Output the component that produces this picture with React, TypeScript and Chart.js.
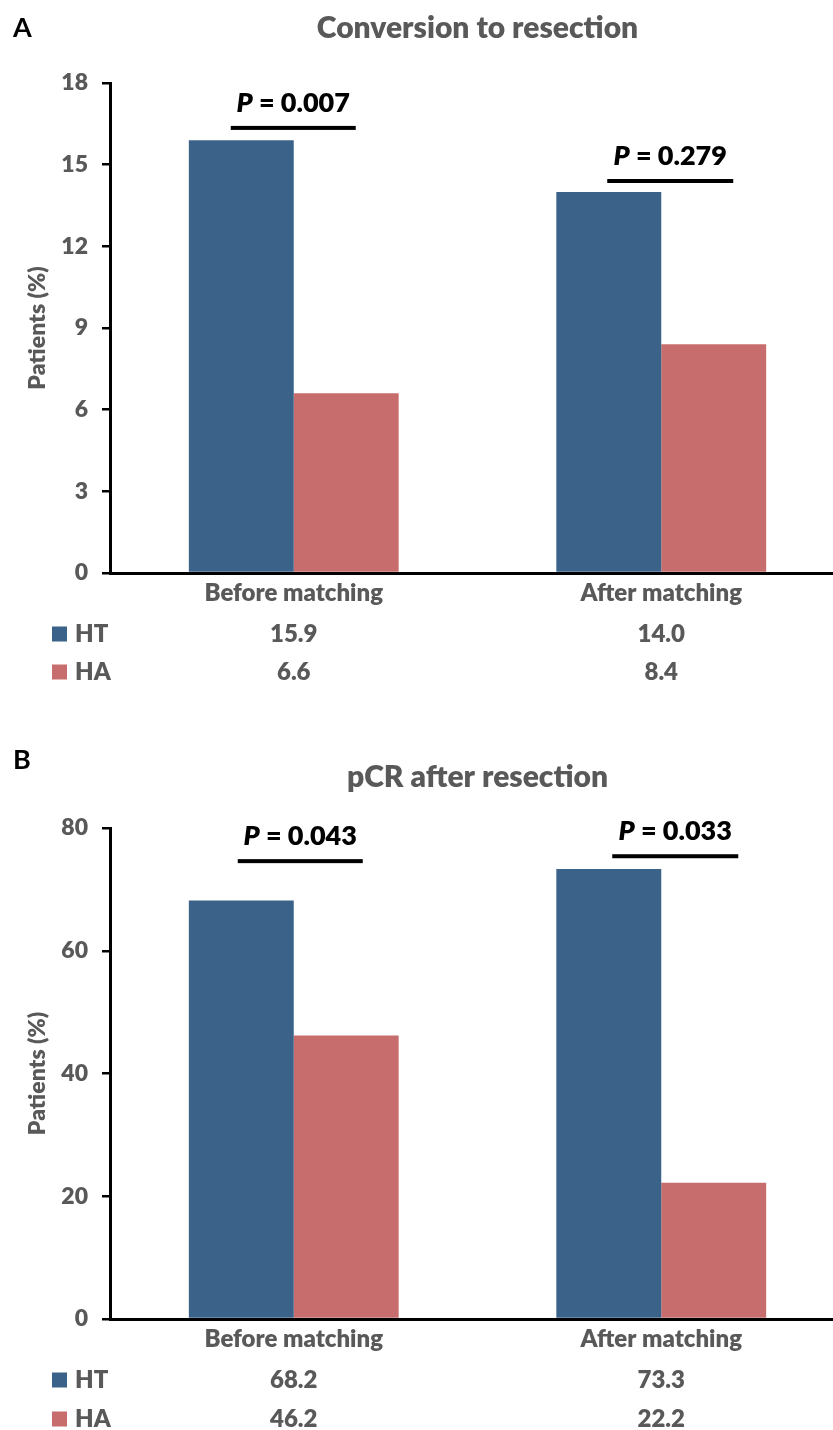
import React, { useEffect, useRef } from 'react';
import { Chart, registerables } from 'chart.js';

Chart.register(...registerables);

const FONT = 'Lato, Carlito, "Open Sans", sans-serif';
const GRAY = '#595959';
const BLUE = '#3B6389';
const RED = '#C86D6D';
const W = '800';

// ---------- data ----------
const categories = ['Before matching', 'After matching'];
const seriesNames = ['HT', 'HA'];

const conversionHT = [15.9, 14.0];
const conversionHA = [6.6, 8.4];
const conversionTicks = [0, 3, 6, 9, 12, 15, 18];
const conversionP = ['0.007', '0.279'];
const conversionPLevel = [16.35, 14.4];

const pcrHT = [68.2, 73.3];
const pcrHA = [46.2, 22.2];
const pcrTicks = [0, 20, 40, 60, 80];
const pcrP = ['0.043', '0.033'];
const pcrPLevel = [74.6, 75.4];

type PanelProps = {
  letter: string;
  title: string;
  ht: number[];
  ha: number[];
  ticks: number[];
  pvals: string[];
  plevels: number[];
  pSpan: number[][];
  height: number;
  padTop: number;
  xAxisH: number;
  letterY: number;
  titleY: number;
  rowOffsets: number[];
};

function Panel(props: PanelProps) {
  const ref = useRef<HTMLCanvasElement | null>(null);
  useEffect(() => {
    if (!ref.current) return;
    const p = props;
    const decor = {
      id: 'decor',
      afterDraw(chart: any) {
        const { ctx, chartArea: ca, scales } = chart;
        const xs = scales.x;
        const ys = scales.y;
        ctx.save();
        // panel letter
        ctx.fillStyle = '#000';
        ctx.font = `bold 27px ${FONT}`;
        ctx.textAlign = 'left';
        ctx.textBaseline = 'middle';
        ctx.fillText(p.letter, 13, p.letterY);
        // title
        ctx.fillStyle = GRAY;
        ctx.font = `${W} 30px ${FONT}`;
        ctx.textAlign = 'center';
        ctx.fillText(p.title, (ca.left + ca.right) / 2, p.titleY);
        // y axis title
        ctx.save();
        ctx.translate(38, (ca.top + ca.bottom) / 2);
        ctx.rotate(-Math.PI / 2);
        ctx.font = `${W} 23px ${FONT}`;
        ctx.fillText('Patients (%)', 0, 0);
        ctx.restore();
        // p-value annotations
        p.pvals.forEach((pv, i) => {
          const cx = xs.getPixelForValue(i);
          const x0 = cx + p.pSpan[i][0];
          const x1 = cx + p.pSpan[i][1];
          const ly = ys.getPixelForValue(p.plevels[i]);
          ctx.fillStyle = '#000';
          ctx.fillRect(x0, ly - 2, x1 - x0, 4);
          const f1 = `italic ${W} 27px ${FONT}`;
          const f2 = `${W} 27px ${FONT}`;
          ctx.font = f1;
          const w1 = ctx.measureText('P').width;
          const rest = ` = ${pv}`;
          ctx.font = f2;
          const w2 = ctx.measureText(rest).width;
          const sx = (x0 + x1) / 2 - (w1 + w2) / 2;
          ctx.textAlign = 'left';
          ctx.font = f1;
          ctx.fillText('P', sx, ly - 25);
          ctx.font = f2;
          ctx.fillText(rest, sx + w1, ly - 25);
        });
        // data table with legend
        const rows = [
          { name: seriesNames[0], color: BLUE, vals: p.ht },
          { name: seriesNames[1], color: RED, vals: p.ha },
        ];
        rows.forEach((r, ri) => {
          const ry = ca.bottom + p.rowOffsets[ri];
          ctx.fillStyle = r.color;
          ctx.fillRect(52, ry - 7.5, 15, 15);
          ctx.fillStyle = GRAY;
          ctx.font = `${W} 24px ${FONT}`;
          ctx.textAlign = 'left';
          ctx.fillText(r.name, 75, ry);
          ctx.textAlign = 'center';
          r.vals.forEach((v, i) => ctx.fillText(v.toFixed(1), xs.getPixelForValue(i), ry));
        });
        ctx.restore();
      },
    };

    const chart = new Chart(ref.current, {
      type: 'bar',
      data: {
        labels: categories,
        datasets: [
          { label: seriesNames[0], data: p.ht, backgroundColor: BLUE, barPercentage: 1, categoryPercentage: 0.571 },
          { label: seriesNames[1], data: p.ha, backgroundColor: RED, barPercentage: 1, categoryPercentage: 0.571 },
        ],
      },
      options: {
        responsive: false,
        animation: false,
        layout: { padding: { top: p.padTop, left: 0, right: 0, bottom: 0 } },
        plugins: {
          legend: { display: false },
          title: { display: false },
          tooltip: { enabled: false },
        },
        scales: {
          x: {
            grid: { display: false, drawTicks: false },
            border: { display: true, color: '#000', width: 3 },
            ticks: {
              color: GRAY,
              font: { family: FONT, size: 24, weight: W },
              padding: 6,
              maxRotation: 0,
            },
            afterFit: (s: any) => {
              s.height = p.xAxisH;
            },
          },
          y: {
            min: p.ticks[0],
            max: p.ticks[p.ticks.length - 1],
            grid: {
              display: true,
              drawOnChartArea: false,
              drawTicks: true,
              tickLength: 8,
              color: '#000',
              lineWidth: 2.5,
            },
            border: { display: true, color: '#000', width: 3 },
            ticks: {
              stepSize: p.ticks[1] - p.ticks[0],
              color: GRAY,
              padding: 14,
              font: { family: FONT, size: 23, weight: W },
            },
            afterFit: (s: any) => {
              s.width = 110;
            },
          },
        },
      },
      plugins: [decor],
    });
    return () => chart.destroy();
  }, []);
  return <canvas ref={ref} width={845} height={props.height} style={{ display: 'block' }} />;
}

export default function App() {
  return (
    <div
      style={{
        position: 'absolute',
        left: 0,
        top: 0,
        width: 833,
        height: 1430,
        overflow: 'hidden',
        background: '#fff',
      }}
    >
      <Panel
        letter="A"
        title="Conversion to resection"
        ht={conversionHT}
        ha={conversionHA}
        ticks={conversionTicks}
        pvals={conversionP}
        plevels={conversionPLevel}
        pSpan={[[-63, 62], [-54, 72]]}
        height={720}
        padTop={83}
        xAxisH={147}
        letterY={28}
        titleY={28}
        rowOffsets={[61, 99]}
      />
      <Panel
        letter="B"
        title="pCR after resection"
        ht={pcrHT}
        ha={pcrHA}
        ticks={pcrTicks}
        pvals={pcrP}
        plevels={pcrPLevel}
        pSpan={[[-56, 69], [-49, 77]]}
        height={710}
        padTop={108}
        xAxisH={111}
        letterY={40}
        titleY={57}
        rowOffsets={[61, 100]}
      />
    </div>
  );
}
